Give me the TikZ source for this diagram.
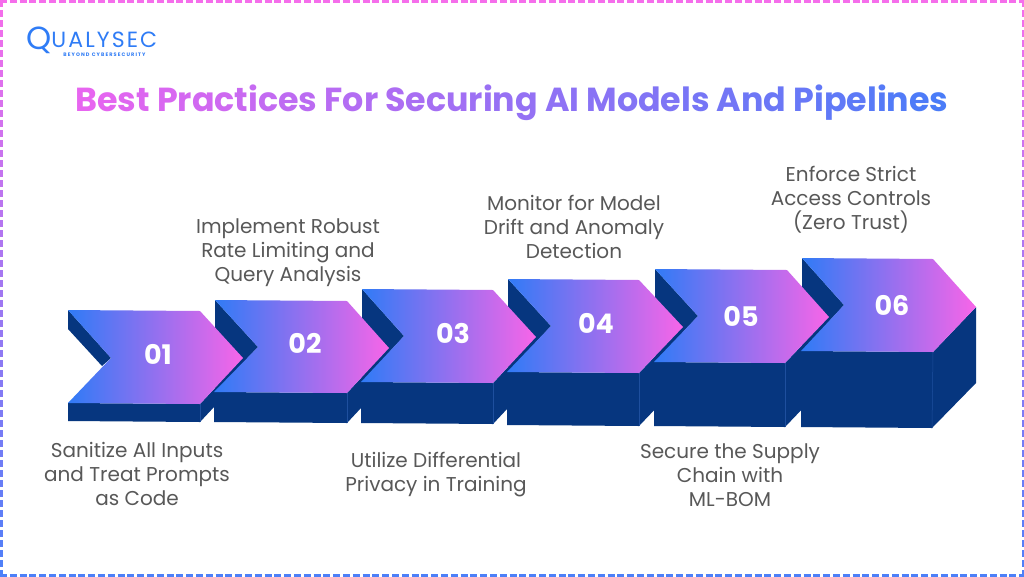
\documentclass[tikz,border=0pt]{standalone}
\usepackage{fontspec}
\setmainfont{Poppins}
\definecolor{arrowblue}{HTML}{2F7BF6}
\definecolor{arrowpink}{HTML}{F865E8}
\definecolor{arrowdark}{HTML}{06367F}
\definecolor{edgeblue}{HTML}{1E4F9E}
\definecolor{titlepink}{HTML}{E765F0}
\definecolor{titleblue}{HTML}{4A7CF8}
\definecolor{borderpink}{HTML}{F56EEB}
\definecolor{borderblue}{HTML}{4D80F8}
\definecolor{logoblue}{HTML}{2F7CF6}
\definecolor{captiongray}{HTML}{585858}
\makeatletter
\newcount\titlepos
\newcommand{\gradword}[1]{\@tfor\titlech:=#1\do{\textcolor{titleblue!\the\numexpr\titlepos*100/43\relax!titlepink}{\titlech}\global\advance\titlepos by 1 }}
\makeatother
\tikzset{
	darkface/.style={fill=arrowdark},
	topface/.style={left color=arrowblue, right color=arrowpink},
	edgeline/.style={edgeblue, line width=0.5pt},
	stepnum/.style={text=white, font=\fontsize{27}{27}\selectfont\bfseries},
	caption/.style={text=captiongray, align=center, font=\fontsize{20}{24}\selectfont},
	borderdash/.style={line width=3pt, dash pattern=on 7pt off 2.8pt}
}
\begin{document}
\begin{tikzpicture}[x=1pt,y=-1pt]
			\useasboundingbox (0,0) rectangle (1024,576);
			\fill[white] (0,0) rectangle (1024,576);
			% dashed frame
			\draw[borderdash, borderpink] (0,1) -- (1024,1);
			\draw[borderdash, borderblue] (0,575) -- (1024,575);
			\foreach \y in {0,10,...,570} {
				\pgfmathtruncatemacro{\mix}{\y/5.7}
				\draw[line width=3pt, borderblue!\mix!borderpink] (1,\y) -- (1,\y+7);
				\draw[line width=3pt, borderblue!\mix!borderpink] (1023,\y) -- (1023,\y+7);
			}
			% logo
			\node[text=logoblue, inner sep=0pt, anchor=base west, font=\fontsize{22}{22}\selectfont\addfontfeature{LetterSpace=9.5}] (logo) at (26,47.5) {\raisebox{-2pt}{\smash{\fontsize{32}{32}\selectfont Q}}UALYSEC};
			\node[text=logoblue, inner sep=0pt, font=\fontsize{5}{5}\selectfont\bfseries\addfontfeature{LetterSpace=22}] (tagline) at (104.5,55) {BEYOND CYBERSECURITY};
			% title
			\node[font=\fontsize{33.3}{34}\selectfont\bfseries] (title) at (512,103) {\gradword{Best}\ \gradword{Practices}\ \gradword{For}\ \gradword{Securing}\ \gradword{AI}\ \gradword{Models}\ \gradword{And}\ \gradword{Pipelines}};
			% dark faces
			\fill[darkface] (68,310) -- (111,358) -- (102,366) -- (68,329) -- cycle;
			\fill[darkface] (68,403) -- (200,404) -- (243,358) -- (243,376) -- (200,422) -- (68,421) -- cycle;
			\fill[darkface] (215,300) -- (258,347) -- (215,392) -- cycle;
			\fill[darkface] (214,392) -- (347,393) -- (389,348) -- (389,378) -- (347,423) -- (214,422) -- cycle;
			\fill[darkface] (362,289) -- (404,336) -- (362,382) -- cycle;
			\fill[darkface] (361,382) -- (493,383) -- (536,337) -- (536,378) -- (493,424) -- (361,423) -- cycle;
			\fill[darkface] (508,279) -- (551,326) -- (508,372) -- cycle;
			\fill[darkface] (507,372) -- (639,373) -- (683,327) -- (683,380) -- (639,426) -- (507,425) -- cycle;
			\fill[darkface] (655,269) -- (698,316) -- (655,362) -- cycle;
			\fill[darkface] (654,362) -- (785,363) -- (829,317) -- (829,381) -- (785,427) -- (654,426) -- cycle;
			\fill[darkface] (802,258) -- (844,305) -- (802,351) -- cycle;
			\fill[darkface] (801,351) -- (933,352) -- (976,307) -- (976,383) -- (932,428) -- (801,427) -- cycle;
			% corner lines between front and side
			\draw[edgeline] (200,404) -- (200,422);
			\draw[edgeline] (347,393) -- (347,423);
			\draw[edgeline] (493,383) -- (493,424);
			\draw[edgeline] (639,373) -- (639,426);
			\draw[edgeline] (785,363) -- (785,427);
			\draw[edgeline] (933,352) -- (932,428);
			% top faces
			\shade[topface] (68,310) -- (200,311) -- (243,358) -- (200,404) -- (68,403) -- (111,358) -- cycle;
			\shade[topface] (215,300) -- (347,301) -- (389,348) -- (347,393) -- (214,392) -- (258,347) -- cycle;
			\shade[topface] (362,289) -- (493,290) -- (536,337) -- (493,383) -- (361,382) -- (404,336) -- cycle;
			\shade[topface] (508,279) -- (639,280) -- (683,327) -- (639,373) -- (507,372) -- (551,326) -- cycle;
			\shade[topface] (655,269) -- (787,270) -- (829,317) -- (785,363) -- (654,362) -- (698,316) -- cycle;
			\shade[topface] (802,258) -- (933,259) -- (976,307) -- (933,352) -- (801,351) -- (844,305) -- cycle;
			% numbers
			\node[stepnum] (num1) at (158,354) {01};
			\node[stepnum] (num2) at (305,343) {02};
			\node[stepnum] (num3) at (453,333) {03};
			\node[stepnum] (num4) at (596,323) {04};
			\node[stepnum] (num5) at (741,316) {05};
			\node[stepnum] (num6) at (892,305) {06};
			% captions
			\node[caption] (text1) at (137,474) {Sanitize All Inputs\\and Treat Prompts\\as Code};
			\node[caption] (text2) at (288,253) {Implement Robust\\Rate Limiting and\\Query Analysis};
			\node[caption] (text3) at (436,475) {Utilize Differential\\Privacy in Training};
			\node[caption] (text4) at (574,227) {Monitor for Model\\Drift and Anomaly\\Detection};
			\node[caption] (text5) at (730,475) {Secure the Supply\\Chain with\\ML-BOM};
			\node[caption] (text6) at (851,200) {Enforce Strict\\Access Controls\\(Zero Trust)};
		\end{tikzpicture}
\end{document}
